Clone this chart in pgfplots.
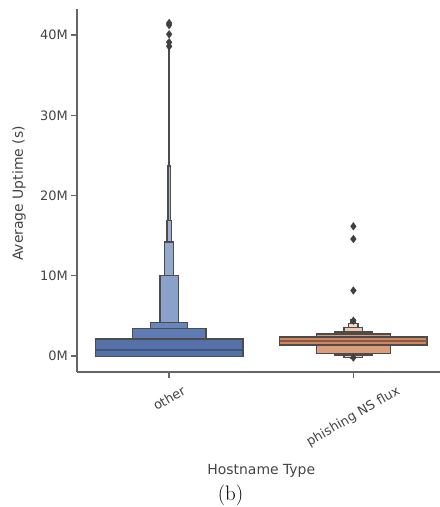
\documentclass[border=0pt]{standalone}
\usepackage{fontspec}
\setsansfont{DejaVu Sans}
\usepackage{graphicx}
\usepackage{pgfplots}
\pgfplotsset{compat=1.18}
\definecolor{txt}{HTML}{444444}
\definecolor{spine}{HTML}{666666}
\definecolor{edge}{HTML}{4C4C4C}
\definecolor{b1}{HTML}{5571A8}
\definecolor{b2}{HTML}{5E7CB3}
\definecolor{b3}{HTML}{6886BA}
\definecolor{b4}{HTML}{8AA1C9}
\definecolor{b5}{HTML}{93A9CE}
\definecolor{b6}{HTML}{9DB1D3}
\definecolor{b7}{HTML}{A9BBD9}
\definecolor{b8}{HTML}{B5C4DE}
\definecolor{b9}{HTML}{C0CDE3}
\definecolor{o1}{HTML}{D0865E}
\definecolor{o2}{HTML}{DC9D7D}
\definecolor{o3}{HTML}{E6B398}
\definecolor{o4}{HTML}{F0C9B3}
\definecolor{o5}{HTML}{F5D8C7}
\definecolor{o6}{HTML}{F8E4D8}
\definecolor{bmed}{HTML}{3E5583}
\definecolor{omed}{HTML}{8A5A44}
\definecolor{outl}{HTML}{404040}
\begin{document}
\begin{tikzpicture}
\begin{axis}[
  at={(0,0)}, anchor=south west,
  scale only axis, width=368.5bp, height=363bp,
  xmin=-0.5, xmax=1.5, ymin=-2, ymax=43.25,
  axis x line*=bottom, axis y line*=left,
  axis line style={-, draw=spine, line width=1.3bp},
  tick style={draw=spine, line width=1.3bp},
  tick align=outside, major tick length=6bp,
  xtick={0,1},
  xticklabels={\rotatebox{30}{other},\rotatebox{30}{phishing NS flux}},
  ytick={0,10,20,30,40},
  yticklabels={0M,10M,20M,30M,40M},
  ticklabel style={font=\fontsize{13}{15}\selectfont\sffamily, text=txt},
  xticklabel style={anchor=north, inner sep=0pt, yshift=-7bp},
  yticklabel style={anchor=east, inner sep=0pt, xshift=-3bp},
  xlabel={Hostname Type},
  ylabel={Average Uptime (s)},
  label style={font=\fontsize{14}{16}\selectfont\sffamily, text=txt},
  xlabel style={at={(axis description cs:0.5,0)}, anchor=base, yshift=-102bp},
  ylabel style={at={(axis description cs:0,0.5)}, anchor=center, yshift=58bp, xshift=-3bp},
  clip=false,
]
% outliers (drawn behind the boxes)
\addplot[only marks, mark=diamond*, mark size=3.8bp, mark options={fill=outl, draw=outl}]
  coordinates {(0,38.6) (0,39.1) (0,40.1) (0,41.25) (0,41.5)};
\addplot[only marks, mark=diamond*, mark size=3.8bp, mark options={fill=outl, draw=outl}]
  coordinates {(1,16.16) (1,14.58) (1,8.16) (1,4.4) (1,-0.2)};
% other: letter-value boxes, narrowest first
\addplot[fill=b9, draw=edge, line width=1.4bp] coordinates {(-0.0016,-0.05) (0.0016,-0.05) (0.0016,38.2) (-0.0016,38.2)} -- cycle;
\addplot[fill=b8, draw=edge, line width=1.4bp] coordinates {(-0.003125,-0.05) (0.003125,-0.05) (0.003125,32.4) (-0.003125,32.4)} -- cycle;
\addplot[fill=b7, draw=edge, line width=1.4bp] coordinates {(-0.00625,-0.05) (0.00625,-0.05) (0.00625,23.7) (-0.00625,23.7)} -- cycle;
\addplot[fill=b6, draw=edge, line width=1.4bp] coordinates {(-0.0125,-0.05) (0.0125,-0.05) (0.0125,16.85) (-0.0125,16.85)} -- cycle;
\addplot[fill=b5, draw=edge, line width=1.4bp] coordinates {(-0.025,-0.05) (0.025,-0.05) (0.025,14.2) (-0.025,14.2)} -- cycle;
\addplot[fill=b4, draw=edge, line width=1.4bp] coordinates {(-0.05,-0.05) (0.05,-0.05) (0.05,10.0) (-0.05,10.0)} -- cycle;
\addplot[fill=b3, draw=edge, line width=1.4bp] coordinates {(-0.1,-0.05) (0.1,-0.05) (0.1,4.2) (-0.1,4.2)} -- cycle;
\addplot[fill=b2, draw=edge, line width=1.4bp] coordinates {(-0.2,-0.05) (0.2,-0.05) (0.2,3.45) (-0.2,3.45)} -- cycle;
\addplot[fill=b1, draw=edge, line width=1.4bp] coordinates {(-0.4,-0.08) (0.4,-0.08) (0.4,2.09) (-0.4,2.09)} -- cycle;
\addplot[draw=bmed, line width=1.4bp] coordinates {(-0.4,0.75) (0.4,0.75)};
% phishing NS flux
\addplot[fill=o6, draw=edge, line width=1.4bp] coordinates {(0.9875,-0.3) (1.0125,-0.3) (1.0125,4.5) (0.9875,4.5)} -- cycle;
\addplot[fill=o5, draw=edge, line width=1.4bp] coordinates {(0.975,-0.2) (1.025,-0.2) (1.025,4.08) (0.975,4.08)} -- cycle;
\addplot[fill=o4, draw=edge, line width=1.4bp] coordinates {(0.95,-0.17) (1.05,-0.17) (1.05,3.58) (0.95,3.58)} -- cycle;
\addplot[fill=o3, draw=edge, line width=1.4bp] coordinates {(0.9,0.12) (1.1,0.12) (1.1,3.0) (0.9,3.0)} -- cycle;
\addplot[fill=o2, draw=edge, line width=1.4bp] coordinates {(0.8,0.33) (1.2,0.33) (1.2,2.75) (0.8,2.75)} -- cycle;
\addplot[fill=o1, draw=edge, line width=1.4bp] coordinates {(0.6,1.375) (1.4,1.375) (1.4,2.34) (0.6,2.34)} -- cycle;
\addplot[draw=omed, line width=1.4bp] coordinates {(0.6,1.875) (1.4,1.875)};
\end{axis}
\node[font=\fontsize{21}{23}\selectfont\rmfamily, text=black, anchor=base] at (153.5bp,-128bp) {(b)};
\pgfresetboundingbox
\useasboundingbox (-77bp,-135bp) rectangle (363bp,372bp);
\end{tikzpicture}
\end{document}
